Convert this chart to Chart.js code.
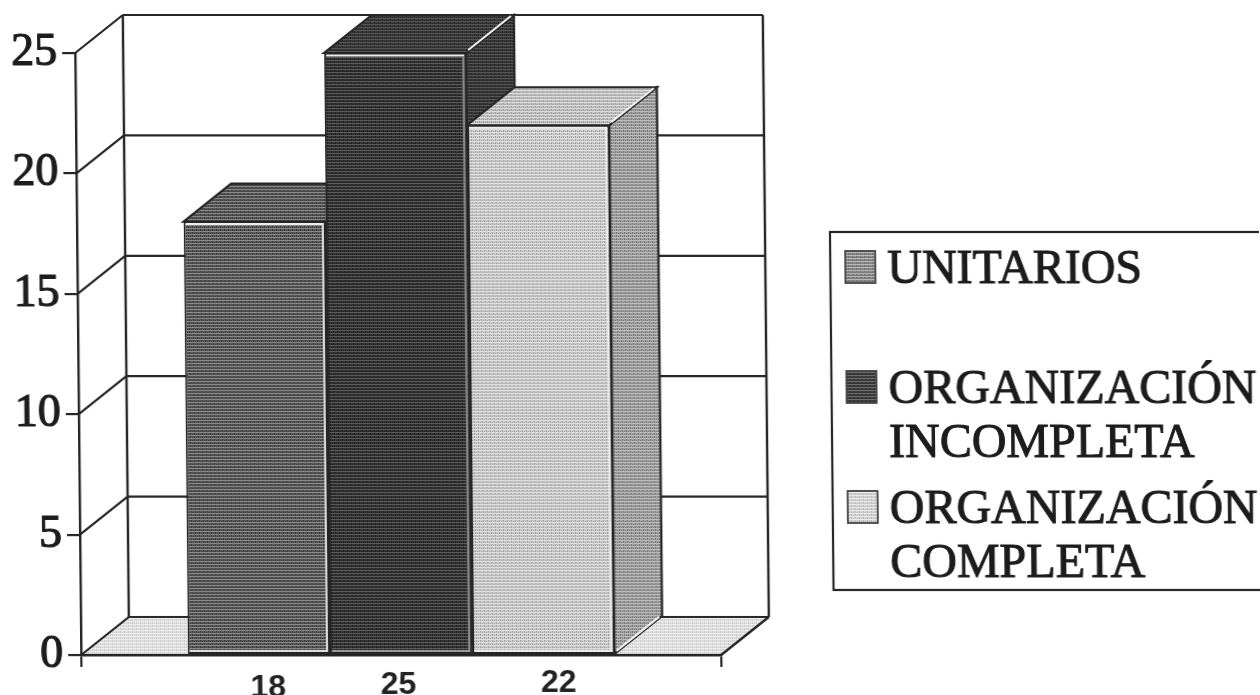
<!DOCTYPE html>
<html><head><meta charset="utf-8">
<script src="https://cdn.jsdelivr.net/npm/chart.js@4/dist/chart.umd.min.js"></script>
<style>
html,body{margin:0;padding:0;background:#fff;overflow:hidden}
canvas{display:block;transform-origin:0 335px;transform:matrix(1,0,0.01,1,0,0);filter:blur(.6px)}
</style></head><body>
<canvas id="c" width="1260" height="695"></canvas>
<script>
const categories = [""];
const seriesNames = ["UNITARIOS", "ORGANIZACIÓN INCOMPLETA", "ORGANIZACIÓN COMPLETA"];
const seriesValues = [18, 25, 22];
const barLabels = ["18", "25", "22"];
const yTicks = [0, 5, 10, 15, 20, 25];
const legendLines = [["UNITARIOS"], ["ORGANIZACIÓN", "INCOMPLETA"], ["ORGANIZACIÓN", "COMPLETA"]];

const INK = "#262626";
const DEPTH_X = 48, DEPTH_Y = -38;
const labelShift = [9, -3, 15];
const labelBase = [697, 694, 692];
const edgeRight = ["#dcdcdc", "#8a8a8a", "#eeeeee"];
const edgeBottom = ["#e0e0e0", "#9a9a9a", "#eeeeee"];

function tile(base, dark, light) {
  const t = document.createElement("canvas");
  t.width = 4; t.height = 3;
  const g = t.getContext("2d");
  g.fillStyle = base; g.fillRect(0, 0, 4, 3);
  g.fillStyle = light; g.fillRect(0, 0, 4, 1);
  g.fillStyle = dark; g.fillRect(1, 1, 1, 2); g.fillRect(3, 2, 1, 1);
  return g.createPattern(t, "repeat");
}
const ctx0 = document.getElementById("c").getContext("2d");
const fronts = [tile("#5a5a5a", "#383838", "#8c8c8c"), tile("#363636", "#1c1c1c", "#5a5a5a"), tile("#cbcbcb", "#a2a2a2", "#e0e0e0")];
const tops   = [tile("#5a5a5a", "#363636", "#8a8a8a"), tile("#3c3c3c", "#242424", "#565656"), tile("#c2c2c2", "#999999", "#dddddd")];
const sides  = [tile("#4a4a4a", "#2c2c2c", "#6a6a6a"), tile("#3a3a3a", "#222222", "#565656"), tile("#a0a0a0", "#777777", "#bcbcbc")];
const swatches = [tile("#8e8e8e", "#666666", "#b8b8b8"), tile("#444444", "#262626", "#6e6e6e"), tile("#d6d6d6", "#b4b4b4", "#eaeaea")];
const floorFill = tile("#e0e0e0", "#cbcbcb", "#ededed");

function poly(g, pts, fill, stroke, lw) {
  g.beginPath();
  pts.forEach((p, i) => i ? g.lineTo(p[0], p[1]) : g.moveTo(p[0], p[1]));
  g.closePath();
  if (fill) { g.fillStyle = fill; g.fill(); }
  if (stroke) { g.strokeStyle = stroke; g.lineWidth = lw || 2; g.stroke(); }
}
function seg(g, x1, y1, x2, y2, col, lw) {
  g.beginPath(); g.moveTo(x1, y1); g.lineTo(x2, y2);
  g.strokeStyle = col; g.lineWidth = lw; g.stroke();
}

const threeD = {
  id: "threeD",
  beforeDatasetsDraw(chart) {
    const g = chart.ctx, a = chart.chartArea, y = chart.scales.y;
    const L = a.left, R = a.right, B = a.bottom;
    g.save();
    poly(g, [[L, B], [R, B], [R + DEPTH_X, B + DEPTH_Y], [L + DEPTH_X, B + DEPTH_Y]], floorFill);
    y.ticks.forEach(t => {
      const py = y.getPixelForValue(t.value);
      seg(g, L, py, L + DEPTH_X, py + DEPTH_Y, INK, 2.2);
      seg(g, L + DEPTH_X, py + DEPTH_Y, R + DEPTH_X, py + DEPTH_Y, INK, 2.2);
    });
    const top = y.getPixelForValue(yTicks[yTicks.length - 1]) + DEPTH_Y;
    seg(g, L + DEPTH_X, top, L + DEPTH_X, B + DEPTH_Y, INK, 2.4);
    seg(g, R + DEPTH_X, top, R + DEPTH_X, B + DEPTH_Y, INK, 2.4);
    seg(g, R, B, R + DEPTH_X, B + DEPTH_Y, INK, 2.4);
    chart.data.datasets.forEach((d, i) => {
      const b = chart.getDatasetMeta(i).data[0];
      const x0 = b.x - b.width / 2, x1 = b.x + b.width / 2, t = b.y, bs = b.base;
      poly(g, [[x1, t], [x1 + DEPTH_X, t + DEPTH_Y], [x1 + DEPTH_X, bs + DEPTH_Y], [x1, bs]], sides[i], INK, 2.2);
      poly(g, [[x0, t], [x1, t], [x1 + DEPTH_X, t + DEPTH_Y], [x0 + DEPTH_X, t + DEPTH_Y]], tops[i], INK, 2.2);
      seg(g, x1 + 2, t - 3, x1 + DEPTH_X - 3, t + DEPTH_Y + 1, "#f2f2f2", 2);
      seg(g, x1 + 2, bs - 3, x1 + DEPTH_X - 3, bs + DEPTH_Y + 1, "#f2f2f2", 2);
    });
    g.restore();
  },
  afterDatasetsDraw(chart) {
    const g = chart.ctx;
    g.save();
    chart.data.datasets.forEach((d, i) => {
      const b = chart.getDatasetMeta(i).data[0];
      const x0 = b.x - b.width / 2, x1 = b.x + b.width / 2, t = b.y, bs = b.base;
      seg(g, x0 + 2, t + 2.5, x1 - 2, t + 2.5, "#eeeeee", 2);
      seg(g, x1 - 3, t + 3, x1 - 3, bs - 2, edgeRight[i], 2);
      seg(g, x0 + 2, bs - 3, x1 - 2, bs - 3, edgeBottom[i], 2);
      g.fillStyle = "#222";
      g.font = "bold 32px 'Liberation Sans'";
      g.textAlign = "center"; g.textBaseline = "alphabetic";
      g.fillText(barLabels[i], b.x + labelShift[i], labelBase[i]);
    });
    drawLegend(g);
    g.restore();
  }
};

function drawLegend(g) {
  g.strokeStyle = INK; g.lineWidth = 2.2;
  g.strokeRect(831, 232, 440, 358);
  g.font = "48px 'Liberation Serif'";
  g.textAlign = "left"; g.textBaseline = "alphabetic";
  const baselines = [[283], [403, 457], [523, 577]];
  legendLines.forEach((lines, i) => {
    const sy = baselines[i][0] - 32;
    g.fillStyle = swatches[i]; g.fillRect(846, sy, 30, 32);
    g.strokeStyle = "#444"; g.lineWidth = 1.8; g.strokeRect(846, sy, 30, 32);
    g.fillStyle = "#1c1c1c"; g.strokeStyle = "#1c1c1c"; g.lineWidth = 1;
    lines.forEach((s, k) => { g.fillText(s, 888, baselines[i][k]); g.strokeText(s, 888, baselines[i][k]); });
  });
}

new Chart(ctx0, {
  type: "bar",
  data: {
    labels: categories,
    datasets: seriesNames.map((n, i) => ({
      label: n, data: [seriesValues[i]],
      backgroundColor: fronts[i], borderColor: INK, borderWidth: 2, borderSkipped: false,
      categoryPercentage: 2 / 3, barPercentage: 1
    }))
  },
  options: {
    responsive: false, animation: false, events: [],
    layout: { padding: { top: 53, right: 542, left: 0, bottom: 0 } },
    plugins: { legend: { display: false }, tooltip: { enabled: false }, title: { display: false } },
    scales: {
      x: {
        afterFit(s) { s.height = 40; },
        ticks: { display: false },
        grid: { display: true, drawOnChartArea: false, drawTicks: true, tickLength: 12, color: INK, lineWidth: 2.2, offset: true },
        border: { display: true, color: INK, width: 2.6, z: 2 }
      },
      y: {
        min: 0, max: 25,
        afterFit(s) { s.width = 78; },
        afterBuildTicks(s) { s.ticks = yTicks.map(v => ({ value: v })); },
        ticks: { font: { family: "'Liberation Serif'", size: 46 }, color: "#1c1c1c", padding: 5, textStrokeColor: "#1c1c1c", textStrokeWidth: 1.2 },
        grid: { display: true, drawOnChartArea: false, drawTicks: true, tickLength: 13, color: INK, lineWidth: 2.2 },
        border: { display: true, color: INK, width: 2.4 }
      }
    }
  },
  plugins: [threeD]
});
</script>
</body></html>
